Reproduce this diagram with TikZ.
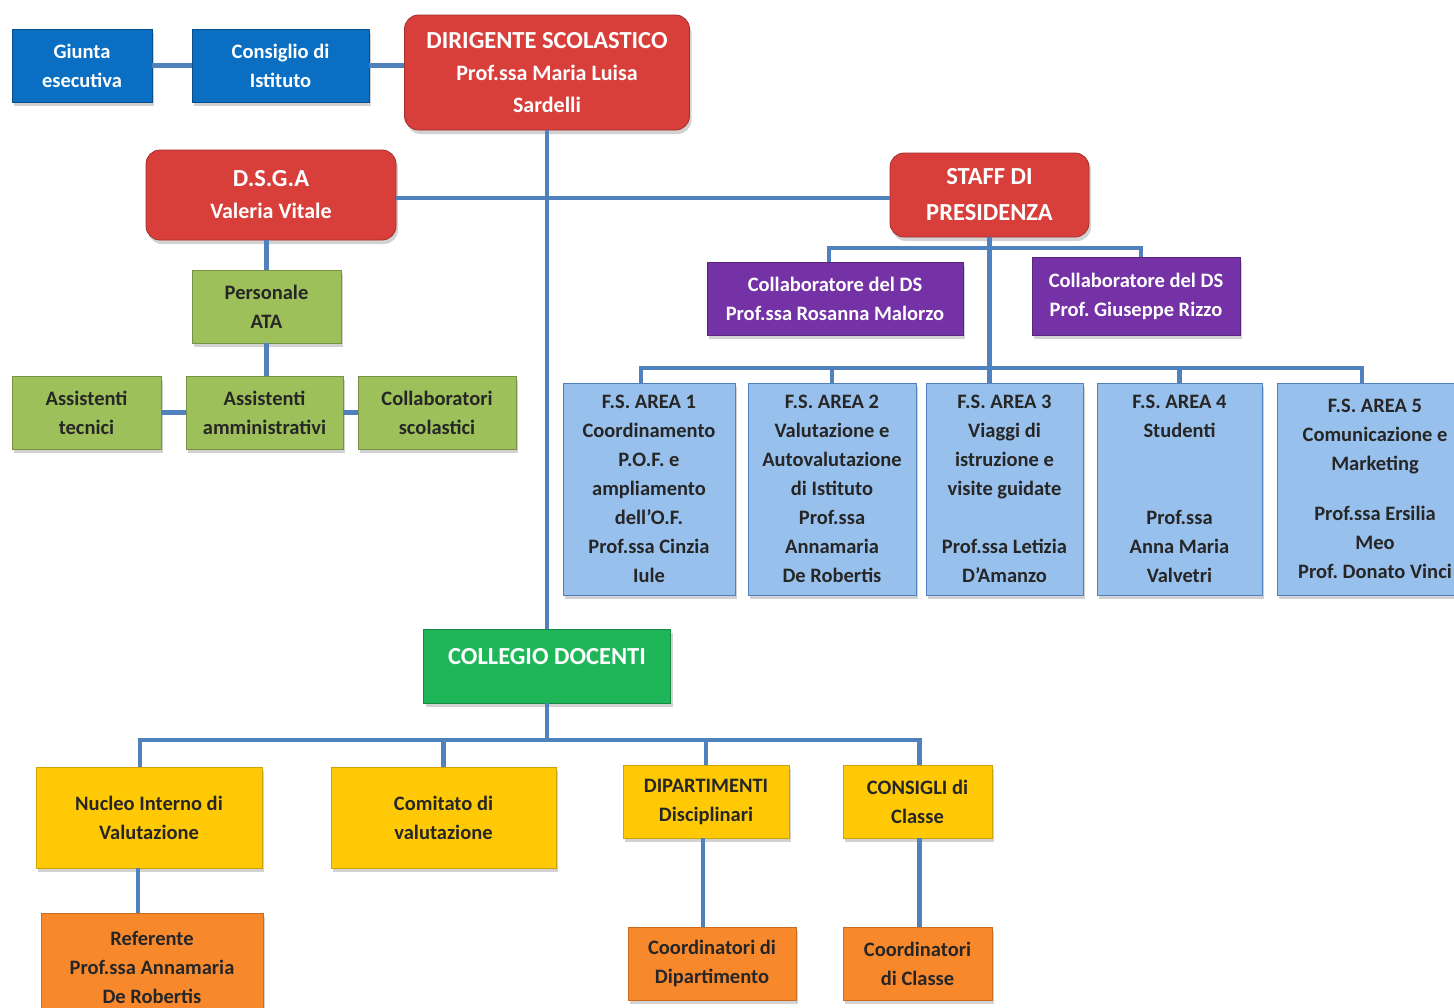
\documentclass[tikz,border=0pt]{standalone}
\usepackage{fontspec}
\setmainfont{Carlito}
\usetikzlibrary{shadows}
\definecolor{linkblue}{HTML}{4F81BD}
\definecolor{boxblue}{HTML}{0A6FC2}
\definecolor{boxred}{HTML}{D83F3B}
\definecolor{boxpurple}{HTML}{7531A6}
\definecolor{boxgreen}{HTML}{9DC05A}
\definecolor{boxsky}{HTML}{98C0EC}
\definecolor{boxcollegio}{HTML}{1FB65A}
\definecolor{boxyellow}{HTML}{FFCA05}
\definecolor{boxorange}{HTML}{F8882C}

\begin{document}
\begin{tikzpicture}
[x=1pt,y=-1pt,%
  every node/.style={draw,thick,inner sep=0pt,align=center,%
    font=\fontsize{20.5}{29}\selectfont\bfseries\frenchspacing,%
    drop shadow={shadow xshift=2pt,shadow yshift=-4pt,opacity=0.35}},%
  link/.style={draw=linkblue,line width=4.5pt},%
  bluebox/.style={fill=boxblue,draw=boxblue!70!black,text=white},%
  redbox/.style={fill=boxred,draw=boxred!75!black,text=white,rounded corners=14pt,%
    font=\fontsize{22}{32}\selectfont\bfseries\frenchspacing},%
  purplebox/.style={fill=boxpurple,draw=boxpurple!75!black,text=white},%
  atabox/.style={fill=boxgreen,draw=boxgreen!75!black,text=black!85},%
  fsbox/.style={fill=boxsky,draw=linkblue,text=black!85,minimum width=#1,minimum height=212pt},%
  yellowbox/.style={fill=boxyellow,draw=boxyellow!80!black,text=black!85},%
  orangebox/.style={fill=boxorange,draw=boxorange!80!black,text=black!85}]
\useasboundingbox[draw=none,fill=white] (0,0) rectangle (1454,1007);

\node[bluebox,minimum width=140pt,minimum height=73pt] (giunta) at (82,65.5) {Giunta\\esecutiva};
\node[bluebox,minimum width=177pt,minimum height=73pt] (consiglio) at (280.5,65.5) {Consiglio di\\Istituto};
\node[redbox,minimum width=285pt,minimum height=115pt] (ds) at (547,72.5)
  {{\fontsize{24.5}{32}\selectfont DIRIGENTE SCOLASTICO}\\Prof.ssa Maria Luisa\\Sardelli};
\node[redbox,minimum width=250pt,minimum height=90pt] (dsga) at (271,195)
  {{\fontsize{24.5}{32}\selectfont D.S.G.A}\\Valeria Vitale};
\node[redbox,minimum width=199pt,minimum height=84pt,font=\fontsize{24.5}{36}\selectfont\bfseries]
  (staff) at (989.5,195) {STAFF DI\\PRESIDENZA};

\node[atabox,minimum width=149pt,minimum height=73pt] (ata) at (266.5,306.5) {Personale\\ATA};
\node[atabox,minimum width=149pt,minimum height=73pt] (tecnici) at (86.5,412.5) {Assistenti\\tecnici};
\node[atabox,minimum width=157pt,minimum height=73pt] (amm) at (264.5,412.5) {Assistenti\\amministrativi};
\node[atabox,minimum width=158pt,minimum height=73pt] (scol) at (437,412.5) {Collaboratori\\scolastici};

\node[purplebox,minimum width=256pt,minimum height=73pt] (collab1) at (835,298.5)
  {Collaboratore del DS\\Prof.ssa Rosanna Malorzo};
\node[purplebox,minimum width=208pt,minimum height=78pt] (collab2) at (1136,296)
  {Collaboratore del DS\\Prof. Giuseppe Rizzo};

\node[fsbox=172pt] (fs1) at (649,489)
  {F.S. AREA 1\\Coordinamento\\P.O.F. e\\ampliamento\\dell’O.F.\\Prof.ssa Cinzia\\Iule};
\node[fsbox=168pt] (fs2) at (832,489)
  {F.S. AREA 2\\Valutazione e\\Autovalutazione\\di Istituto\\Prof.ssa\\Annamaria\\De Robertis};
\node[fsbox=157pt] (fs3) at (1004.5,489)
  {F.S. AREA 3\\Viaggi di\\istruzione e\\visite guidate\\[29pt]Prof.ssa Letizia\\D’Amanzo};
\node[fsbox=165pt] (fs4) at (1179.5,489)
  {F.S. AREA 4\\Studenti\\[58pt]Prof.ssa\\Anna Maria\\Valvetri};
\node[fsbox=196pt] (fs5) at (1375,489)
  {F.S. AREA 5\\Comunicazione e\\Marketing\\[21pt]Prof.ssa Ersilia\\Meo\\Prof. Donato Vinci};

\node[fill=boxcollegio,draw=boxcollegio!75!black,text=white,minimum width=247pt,minimum height=74pt,
  font=\fontsize{24.5}{30}\selectfont\bfseries,text height=16pt,text depth=20pt] (collegio) at (547,666)
  {COLLEGIO DOCENTI};

\node[yellowbox,minimum width=226pt,minimum height=101pt] (niv) at (149,817.5) {Nucleo Interno di\\Valutazione};
\node[yellowbox,minimum width=225pt,minimum height=101pt] (comitato) at (443.5,817.5) {Comitato di\\valutazione};
\node[yellowbox,minimum width=166pt,minimum height=73pt] (dip) at (706,801.5) {DIPARTIMENTI\\Disciplinari};
\node[yellowbox,minimum width=149pt,minimum height=73pt] (consigli) at (917.5,801.5) {CONSIGLI di\\Classe};

\node[orangebox,minimum width=222pt,minimum height=108pt] (referente) at (152,967)
  {Referente\\Prof.ssa Annamaria\\De Robertis};
\node[orangebox,minimum width=168pt,minimum height=73pt] (coorddip) at (712,963.5) {Coordinatori di\\Dipartimento};
\node[orangebox,minimum width=149pt,minimum height=73pt] (coordcl) at (917.5,963.5) {Coordinatori\\di Classe};

\coordinate (busstaff) at (989.5,248);
\coordinate (busfs) at (989.5,368);
\coordinate (buscd) at (547,740);

\draw[link] (giunta.east) -- (consiglio.west);
\draw[link] (consiglio.east) -- (consiglio.east -| ds.west);
\draw[link] (ds.south) -- (collegio.north);
\draw[link] ([yshift=-3pt]dsga.east) -- ([yshift=-3pt]staff.west);
\draw[link] (dsga.south -| ata.north) -- (ata.north);
\draw[link] (ata.south) -- (ata.south |- amm.north);
\draw[link] (tecnici.east) -- (amm.west);
\draw[link] (amm.east) -- (scol.west);
\draw[link] (staff.south) -- (staff.south |- fs3.north);
\draw[link] ([xshift=-6pt]collab1.north) |- (busstaff) -| ([xshift=5pt]collab2.north);
\draw[link] ([xshift=-8pt]fs1.north) |- (busfs) -| ([xshift=-13pt]fs5.north);
\draw[link] (fs2.north) -- (fs2.north |- busfs);
\draw[link] (fs4.north) -- (fs4.north |- busfs);
\draw[link] (collegio.south) -- (buscd);
\draw[link] ([xshift=-9pt]niv.north) |- (buscd) -| ([xshift=2pt]consigli.north);
\draw[link] (comitato.north) -- (comitato.north |- buscd);
\draw[link] (dip.north) -- (dip.north |- buscd);
\draw[link] ([xshift=-11pt]niv.south) -- ([xshift=-11pt]niv.south |- referente.north);
\draw[link] ([xshift=-3pt]dip.south) -- ([xshift=-3pt]dip.south |- coorddip.north);
\draw[link] ([xshift=2pt]consigli.south) -- ([xshift=2pt]coordcl.north);
\end{tikzpicture}
\end{document}
